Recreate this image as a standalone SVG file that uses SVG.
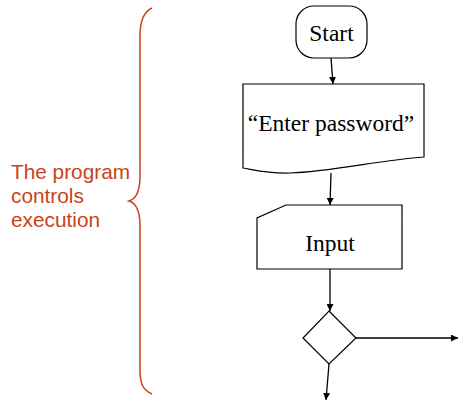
<svg xmlns="http://www.w3.org/2000/svg" width="458" height="400" viewBox="0 0 458 400">
<style>
.shape{fill:#fff;stroke:#000;stroke-width:1.2}
.lbl{font-family:"Liberation Serif","Times New Roman",serif;font-size:23.5px;fill:#000;text-anchor:middle}
.conn{stroke:#000;stroke-width:1.3;fill:none;marker-end:url(#ah)}
.note{font-family:"Liberation Sans",Arial,sans-serif;font-size:20.8px;fill:#c8441a}
</style>
<defs>
<marker id="ah" viewBox="0 0 10 10" refX="10" refY="5" markerWidth="7" markerHeight="7" markerUnits="userSpaceOnUse" orient="auto">
<path d="M0,0 L10,5 L0,10 z" fill="#000"/>
</marker>
</defs>
<g id="brace">
<path d="M152,8 C143,12 140,22 140,36 L140,176 C140,192 136,199 129,201 C136,203 140,210 140,226 L140,370 C140,384 143,390 152,394" fill="none" stroke="#c8441a" stroke-width="1.5"/>
</g>
<g id="note">
<text class="note" x="11" y="179">The program</text>
<text class="note" x="11" y="203">controls</text>
<text class="note" x="11" y="227">execution</text>
</g>
<g id="start">
<rect class="shape" x="296" y="6" width="71" height="52" rx="18" ry="18"/>
<text class="lbl" x="331.5" y="41">Start</text>
</g>
<g id="display">
<path class="shape" d="M243,84 L424,84 L424,157 C380,160 330,172 290,173 C270,174 255,170 243,168 Z"/>
<text class="lbl" x="331" y="131">“Enter password”</text>
</g>
<g id="input">
<path class="shape" d="M286,205 L402,205 L402,269 L257,269 L257,218 Z"/>
<text class="lbl" x="330" y="251">Input</text>
</g>
<g id="decision">
<path class="shape" d="M329,311 L356,338 L329,364 L303,338 Z"/>
</g>
<g id="connectors">
<line class="conn" x1="331" y1="58" x2="333" y2="84"/>
<line class="conn" x1="331" y1="173" x2="330" y2="205"/>
<line class="conn" x1="330" y1="269" x2="330" y2="311"/>
<line class="conn" x1="356" y1="338" x2="458" y2="338"/>
<line class="conn" x1="329" y1="364" x2="326" y2="400"/>
</g>
</svg>
